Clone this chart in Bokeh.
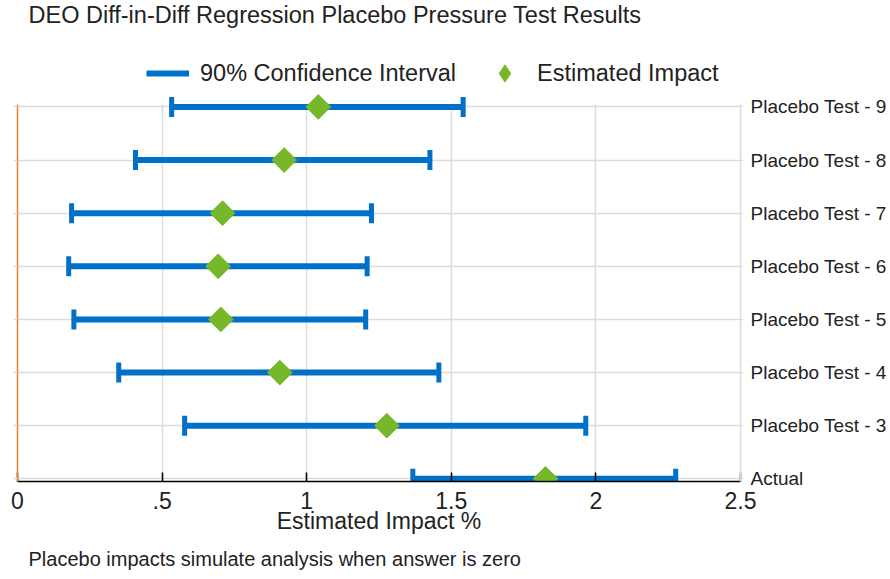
from bokeh.plotting import figure
from bokeh.models import (ColumnDataSource, FixedTicker, Range1d, BoxAnnotation, LinearAxis,
                          Legend, LegendItem, Title, Label)
from bokeh.embed import file_html
from bokeh.resources import INLINE
import math

# ---- data (bottom row first) ----
row_labels = ["Actual", "Placebo Test - 3", "Placebo Test - 4", "Placebo Test - 5",
              "Placebo Test - 6", "Placebo Test - 7", "Placebo Test - 8", "Placebo Test - 9"]
estimate = [1.826, 1.277, 0.907, 0.703, 0.694, 0.709, 0.922, 1.040]
ci_low = [1.367, 0.578, 0.350, 0.195, 0.177, 0.187, 0.408, 0.533]
ci_high = [2.276, 1.965, 1.457, 1.204, 1.209, 1.224, 1.426, 1.541]
x_ticks = [0, 0.5, 1, 1.5, 2, 2.5]
x_tick_labels = ["0", ".5", "1", "1.5", "2", "2.5"]

ypos = list(range(len(row_labels)))
src = ColumnDataSource(dict(y=ypos, est=estimate, lo=ci_low, hi=ci_high, label=row_labels))

BLUE = "#0070C8"
GREEN = "#76B82A"
ORANGE = "#E8812B"
GRID = "#DCDCDC"
TXT = "#222222"
FONT = "Liberation Sans"

Y_LO, Y_HI = -0.05, len(row_labels) - 1 + 0.05   # plotted rows band
Y_TOP = 9.003                                      # room above for title and legend

p = figure(width=890, height=579, output_backend="svg", toolbar_location=None,
           x_range=Range1d(0, 2.5), y_range=Range1d(Y_LO, Y_TOP),
           y_axis_location="right",
           min_border_left=17, min_border_right=150, min_border_top=0, min_border_bottom=96)
p.outline_line_color = None

# x axis
xa = p.xaxis[0]
xa.ticker = FixedTicker(ticks=x_ticks)
xa.major_label_overrides = {t: l for t, l in zip(x_ticks, x_tick_labels)}
xa.minor_tick_line_color = None
xa.major_tick_in = 9
xa.major_tick_out = 0
xa.axis_line_color = "black"
xa.axis_line_width = 1.5
xa.major_tick_line_color = "black"
xa.major_tick_line_width = 1.5
xa.major_label_text_font = FONT
xa.major_label_text_font_size = "23px"
xa.major_label_text_color = TXT
xa.major_label_standoff = 10
xa.axis_label = "Estimated Impact %"
xa.axis_label_text_font = FONT
xa.axis_label_text_font_size = "23px"
xa.axis_label_text_font_style = "normal"
xa.axis_label_text_color = TXT
xa.axis_label_standoff = -4

# right y axis with row labels
ya = p.yaxis[0]
ya.ticker = FixedTicker(ticks=ypos)
ya.major_label_overrides = {i: l for i, l in zip(ypos, row_labels)}
ya.bounds = (Y_LO, Y_HI)
ya.minor_tick_line_color = None
ya.major_tick_in = 0
ya.major_tick_out = 3
ya.major_tick_line_color = GRID
ya.axis_line_color = GRID
ya.axis_line_width = 1.5
ya.major_label_text_font = FONT
ya.major_label_text_font_size = "19px"
ya.major_label_text_color = TXT
ya.major_label_standoff = 7

# left axis: orange zero line with short grey stubs, no labels
la = LinearAxis(ticker=FixedTicker(ticks=ypos), bounds=(Y_LO, Y_HI),
                major_label_overrides={i: "" for i in ypos}, major_label_standoff=0,
                axis_line_color=ORANGE, axis_line_width=1.5,
                major_tick_in=0, major_tick_out=4, major_tick_line_color=GRID,
                major_tick_line_width=1.5, minor_tick_line_color=None)
p.add_layout(la, "left")

p.xgrid.grid_line_color = GRID
p.xgrid.grid_line_width = 1.5
p.ygrid.grid_line_color = GRID
p.ygrid.grid_line_width = 1.5

# blank band above the rows (title / legend area)
p.add_layout(BoxAnnotation(bottom=Y_HI, fill_color="white", fill_alpha=1, line_color=None,
                           level="underlay"))

# title (top-left)
p.add_layout(Label(x=11, y=467, x_units="screen", y_units="screen",
                   text="DEO Diff-in-Diff Regression Placebo Pressure Test Results",
                   text_font=FONT, text_font_size="23.5px", text_color=TXT,
                   text_baseline="alphabetic", text_align="left"))

# confidence intervals
seg = p.segment(x0="lo", y0="y", x1="hi", y1="y", source=src, line_color=BLUE, line_width=6)
p.rect(x="lo", y="y", width=5, height=20, width_units="screen", height_units="screen",
       source=src, fill_color=BLUE, line_color=None)
p.rect(x="hi", y="y", width=5, height=20, width_units="screen", height_units="screen",
       source=src, fill_color=BLUE, line_color=None)

# estimates
pts = p.scatter(x="est", y="y", source=src, marker="square", angle=math.pi / 4, size=17.5,
                fill_color=GREEN, line_color=GREEN, line_width=1)
# diamond swatch for the legend (legend swatches are drawn unrotated)
pts_key = p.scatter(x="est", y="y", source=src, marker="diamond", size=25,
                    fill_color=GREEN, line_color=GREEN, visible=False)

legend = Legend(items=[LegendItem(label="90% Confidence Interval", renderers=[seg], index=0),
                       LegendItem(label="Estimated Impact", renderers=[pts_key], index=0)],
                orientation="horizontal", location=(129, 386),
                glyph_width=43, glyph_height=44, label_standoff=11, spacing=27,
                padding=0, margin=0, border_line_color=None, background_fill_alpha=0,
                inactive_fill_alpha=0, click_policy="none",
                label_text_font=FONT, label_text_font_size="23.5px", label_text_color=TXT)
p.add_layout(legend, "center")

footer = Title(text="Placebo impacts simulate analysis when answer is zero", align="left",
               offset=11, standoff=19, text_font=FONT, text_font_size="20px",
               text_font_style="normal", text_color=TXT, text_line_height=1.0)
p.add_layout(footer, "below")

open("out.html", "w").write(file_html(p, INLINE))
